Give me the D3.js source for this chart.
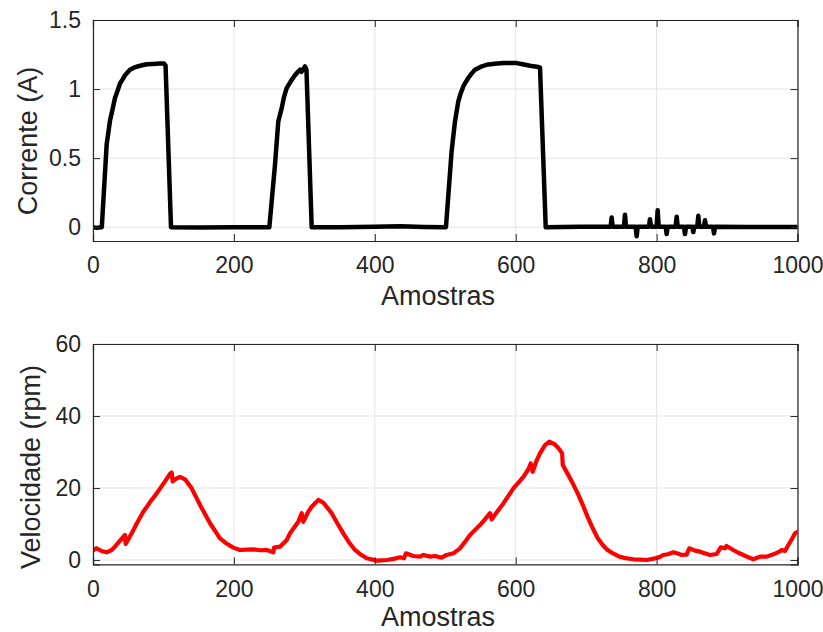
<!DOCTYPE html>
<html>
<head>
<meta charset="utf-8">
<script src="https://cdn.jsdelivr.net/npm/d3@7"></script>
<style>
  html, body { margin: 0; padding: 0; background: #fff; }
  svg { display: block; }
  text { font-family: "Liberation Sans", Arial, Helvetica, sans-serif; fill: #262626; }
</style>
</head>
<body>
<svg id="chart" width="823" height="632"></svg>
<script>
// Current (A) per sample
const curSample = [0, 5, 11, 12.5, 19.4, 24.1, 28, 31.2, 35, 38.3, 42, 45.4, 52.5, 58, 64.3, 70, 76.2, 85, 95, 100.8, 103, 110.7,
  150, 200, 250.3, 258.3, 263, 267.8, 271, 274.9, 282, 286.7, 290, 293.8, 296, 298, 300.9, 303, 310.4,
  350, 400, 436, 470, 501, 509, 513.8, 518.5, 522, 525.6, 529, 532.7, 537, 542.2, 550, 558.8, 570, 582.5, 601.4, 610, 620.3, 632.1, 634.5, 642.6,
  690, 734.7, 736.2, 737.7, 753.6, 755.1, 756.6, 770.2, 771.7, 773.2, 789.1, 790.6, 792.1, 800, 801.5, 803, 812.8, 814.3, 815.8,
  827, 828.5, 830, 838.8, 840.3, 841.8, 850.6, 852.1, 853.6, 857.7, 859.2, 860.7, 867.2, 868.7, 870.2, 880, 881.5, 883,
  930, 1000];
const curAmp = [0, -0.005, 0, 0, 0.6, 0.77, 0.86, 0.935, 0.99, 1.04, 1.07, 1.10, 1.14, 1.155, 1.165, 1.172, 1.18, 1.182, 1.185, 1.185, 1.17, 0,
  -0.003, 0, 0, 0.45, 0.765, 0.86, 0.94, 1.007, 1.067, 1.10, 1.12, 1.14, 1.125, 1.14, 1.164, 1.14, 0,
  0, 0.003, 0.007, 0.002, 0, 0.548, 0.765, 0.91, 0.97, 1.019, 1.05, 1.08, 1.11, 1.14, 1.16, 1.176, 1.184, 1.188, 1.188, 1.18, 1.169, 1.16, 1.155, 0,
  0.003, 0.003, 0.07, 0.003, 0.003, 0.09, 0.003, 0.003, -0.065, 0.003, 0.003, 0.058, 0.003, 0.003, 0.123, 0.003, 0.003, -0.05, 0.003,
  0.003, 0.075, 0.003, 0.003, -0.05, 0.003, 0.003, -0.035, 0.003, 0.003, 0.082, 0.003, 0.003, 0.05, 0.003, 0.003, -0.045, 0.003,
  0.002, 0.002];

// Speed (rpm) per sample
const velSample = [0, 2, 5.2, 12, 19.4, 26.5, 31.2, 38, 45.4, 46.4, 54.9, 63, 71.4, 80, 90.4, 100, 109.3, 111.7, 113.1, 118, 123.4, 130.6,
  140.1, 151.9, 166.1, 180.3, 190, 199.2, 208.6, 218, 227.5, 237, 246.5, 256, 257, 265.4, 275, 279.6, 285, 291.4, 296.2, 298.5,
  305, 310.4, 319.9, 327, 338.8, 346, 355.3, 363, 371.9, 380, 388.4, 402.7, 416.9, 427, 435.8, 441.5, 444.3, 454.6, 464.2, 468.9,
  478.4, 485.5, 494.9, 502, 511.5, 521, 528, 535.2, 542, 549.3, 556, 563.5, 566, 574, 582.5, 596.7, 610.9, 618, 621.3, 624.2, 629,
  634.5, 641.6, 647.8, 655, 661, 665.9, 666.8, 673, 681, 688, 695.2, 702, 709.4, 716, 723.6, 730, 737.8, 747.3, 756, 766.9, 776,
  785.9, 797.7, 804, 809.5, 816, 823.7, 830, 835.6, 842.6, 846.4, 854.5, 861.6, 868, 875.8, 885.3, 891, 897, 899.3, 908.8, 916,
  923, 930, 937.2, 946.7, 956.2, 965.7, 972, 977.5, 982.3, 987, 992, 996.5, 1000];
const velRpm = [2.6, 3.0, 3.24, 2.5, 2.13, 2.78, 3.7, 5.3, 6.94, 4.44, 7.4, 10.5, 13.4, 15.8, 18.5, 21.2, 23.9, 24.3, 21.8, 22.6, 23.1, 22.4,
  19.9, 15.3, 10.2, 6.0, 4.5, 3.43, 2.78, 2.9, 2.96, 2.7, 2.78, 2.13, 3.43, 3.7, 5.56, 7.4, 8.9, 10.6, 13.0, 10.6,
  13.2, 14.8, 16.7, 15.9, 13.0, 10.5, 7.4, 5.0, 2.78, 1.5, 0.46, -0.19, 0, 0.3, 0.74, 0.46, 1.85, 1.1, 0.93, 1.39,
  0.93, 1.1, 0.65, 1.39, 1.85, 3.24, 5.0, 6.94, 8.3, 9.7, 11.2, 13.0, 11.3, 13.5, 15.7, 19.9, 23.1, 25.2, 26.8, 24.5, 27.3,
  29.6, 31.9, 32.9, 32.2, 31.0, 29.6, 26.4, 24.2, 21.3, 18.5, 15.3, 12.0, 8.8, 6.2, 4.17, 2.8, 1.85, 0.93, 0.5, 0.19, 0.1,
  0, 0.46, 0.8, 1.39, 1.6, 2.13, 1.8, 1.39, 1.5, 3.24, 2.59, 2.31, 1.9, 1.39, 1.67, 3.52, 3.24, 3.89, 2.78, 2.0,
  1.39, 0.8, 0.19, 0.93, 0.93, 1.57, 2.1, 2.78, 2.5, 4.17, 5.8, 7.4, 7.8];

// Axis ticks
const xTicks = [0, 200, 400, 600, 800, 1000];
const curTicks = [0, 0.5, 1, 1.5];
const curTickLabels = ["0", "0.5", "1", "1.5"];
const velTicks = [0, 20, 40, 60];
const velTickLabels = ["0", "20", "40", "60"];

const svg = d3.select("#chart");
const AXIS = "#262626", GRID = "#e3e3e3";
const TICK_FONT = 23, LABEL_FONT = 27, TICK_LEN = 7;

function panel(opt) {
  const x = d3.scaleLinear().domain([0, 1000]).range([opt.left, opt.right]);
  const y = d3.scaleLinear().domain(opt.yDomain).range([opt.bottom, opt.top]);
  const g = svg.append("g");
  const clipId = "clip-" + opt.id;
  svg.append("clipPath").attr("id", clipId).append("rect")
    .attr("x", opt.left).attr("y", opt.top)
    .attr("width", opt.right - opt.left).attr("height", opt.bottom - opt.top);

  // grid
  g.append("g").selectAll("line").data(xTicks).join("line")
    .attr("x1", d => x(d)).attr("x2", d => x(d))
    .attr("y1", opt.top).attr("y2", opt.bottom)
    .attr("stroke", GRID).attr("stroke-width", 1);
  g.append("g").selectAll("line").data(opt.yTicks).join("line")
    .attr("x1", opt.left).attr("x2", opt.right)
    .attr("y1", d => y(d)).attr("y2", d => y(d))
    .attr("stroke", GRID).attr("stroke-width", 1);

  // data line
  const pts = opt.xs.map((v, i) => [v, opt.ys[i]]);
  g.append("path").datum(pts)
    .attr("clip-path", `url(#${clipId})`)
    .attr("d", d3.line().x(d => x(d[0])).y(d => y(d[1])))
    .attr("fill", "none").attr("stroke", opt.color)
    .attr("stroke-width", opt.width).attr("stroke-linejoin", "round").attr("stroke-linecap", "round");

  // axes (inward ticks on all four sides)
  const bottomAxis = d3.axisBottom(x).tickValues(xTicks).tickSize(-TICK_LEN).tickPadding(TICK_LEN + 9).tickFormat(d3.format("d"));
  const topAxis = d3.axisTop(x).tickValues(xTicks).tickSize(-TICK_LEN).tickFormat("");
  const leftAxis = d3.axisLeft(y).tickValues(opt.yTicks).tickSize(-TICK_LEN).tickPadding(TICK_LEN + 5)
    .tickFormat((d, i) => opt.yTickLabels[i]);
  const rightAxis = d3.axisRight(y).tickValues(opt.yTicks).tickSize(-TICK_LEN).tickFormat("");

  const axes = [
    [bottomAxis, `translate(0,${opt.bottom})`],
    [topAxis, `translate(0,${opt.top})`],
    [leftAxis, `translate(${opt.left},0)`],
    [rightAxis, `translate(${opt.right},0)`]
  ];
  axes.forEach(([ax, tr]) => {
    const a = g.append("g").attr("transform", tr).call(ax);
    a.select(".domain").attr("stroke", AXIS).attr("stroke-width", 1.2);
    a.selectAll(".tick line").attr("stroke", AXIS).attr("stroke-width", 1);
    a.selectAll(".tick text").attr("fill", AXIS).style("font-size", TICK_FONT + "px")
      .style("font-family", '"Liberation Sans", Arial, Helvetica, sans-serif');
  });

  // axis titles
  g.append("text").attr("x", opt.xLabelX).attr("y", opt.xLabelY)
    .attr("text-anchor", "middle").style("font-size", LABEL_FONT + "px").text("Amostras");
  g.append("text").attr("transform", `translate(${opt.yLabelX},${opt.yLabelCY}) rotate(-90)`)
    .attr("text-anchor", "middle").style("font-size", LABEL_FONT + "px").text(opt.yLabel);
}

panel({
  id: "cur", left: 93, right: 797.5, top: 20, bottom: 241,
  yDomain: [-0.1, 1.5], yTicks: curTicks, yTickLabels: curTickLabels,
  xs: curSample, ys: curAmp, color: "#000000", width: 4.5,
  xLabelX: 438, xLabelY: 305, yLabel: "Corrente (A)", yLabelX: 37, yLabelCY: 141
});

panel({
  id: "vel", left: 93, right: 797.5, top: 344, bottom: 564.3,
  yDomain: [-1.2, 60], yTicks: velTicks, yTickLabels: velTickLabels,
  xs: velSample, ys: velRpm, color: "#ff0000", width: 4.2,
  xLabelX: 438, xLabelY: 626, yLabel: "Velocidade (rpm)", yLabelX: 40, yLabelCY: 467
});
</script>
</body>
</html>
